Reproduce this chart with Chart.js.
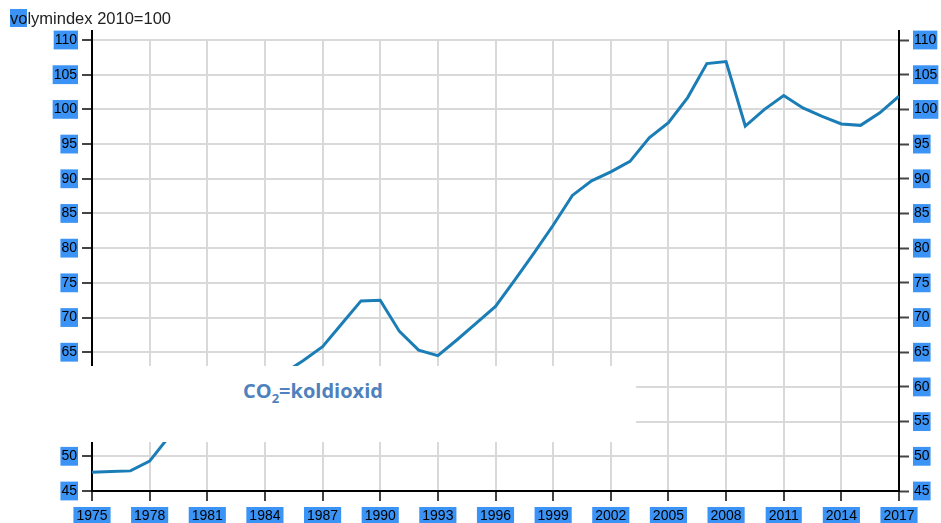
<!DOCTYPE html>
<html lang="sv">
  <head>
    <meta charset="UTF-8" />
    <title>Volymindex 2010=100</title>
    <script src="https://cdn.jsdelivr.net/npm/chart.js"></script>
    <style>
      body { margin: 0; background: #fff; }
      #wrap { position: relative; width: 941px; height: 523px; overflow: hidden; }
      #unit {
        position: absolute; left: 10px; top: 9px;
        font: 16.5px "Liberation Sans", Arial, sans-serif; color: #222;
        line-height: 18px;
      }
      #unit .sel { background: #3b93f5; color: #111; }
      #cover {
        position: absolute; left: 0; top: 366px; width: 636px; height: 76px;
        background: #fff;
      }
      #cover span {
        position: absolute; left: 243px; top: 11px;
        font: bold 20px "Open Sans", sans-serif; color: #4f81bd;
      }
    </style>
  </head>
  <body>
    <div id="wrap">
      <canvas id="chart" width="941" height="523"></canvas>
      <div id="unit"><span class="sel">vo</span>lymindex 2010=100</div>
      <div id="cover"><span>CO<sub style="font-size:13px">2</sub>=koldioxid</span></div>
    </div>

    <script>
      const years = [
        1975, 1976, 1977, 1978, 1979, 1980, 1981, 1982, 1983, 1984,
        1985, 1986, 1987, 1988, 1989, 1990, 1991, 1992, 1993, 1994,
        1995, 1996, 1997, 1998, 1999, 2000, 2001, 2002, 2003, 2004,
        2005, 2006, 2007, 2008, 2009, 2010, 2011, 2012, 2013, 2014,
        2015, 2016, 2017,
      ];
      // volymindex, 2010=100
      const volume = [
        47.7, 47.8, 47.9, 49.3, 52.8, 55.5, 56.5, 57.2, 58.3, 60.2,
        62.0, 63.8, 65.8, 69.1, 72.4, 72.5, 68.0, 65.3, 64.5, 66.8,
        69.2, 71.6, 75.4, 79.3, 83.3, 87.6, 89.7, 91.0, 92.5, 95.9,
        98.1, 101.7, 106.6, 106.9, 97.6, 100.0, 102.0, 100.2, 99.0, 97.9,
        97.7, 99.5, 101.9,
      ];
      const yMin = 45, yMax = 110, yStep = 5;
      const xStep = 3;

      const selBlue = "#3b93f5";
      const tickFont = { family: "'Liberation Sans', Arial, sans-serif", size: 14 };

      // axis lines poke a little above the plot area
      const axisStubs = {
        id: "axisStubs",
        afterDraw(chart) {
          const { ctx, chartArea } = chart;
          ctx.save();
          ctx.strokeStyle = "#000";
          ctx.lineWidth = 2;
          [chartArea.left, chartArea.right].forEach((x) => {
            ctx.beginPath();
            ctx.moveTo(x, chartArea.top - 10);
            ctx.lineTo(x, chartArea.top);
            ctx.stroke();
          });
          ctx.restore();
        },
      };

      const yTicks = {
        stepSize: yStep,
        color: "#000",
        font: tickFont,
        padding: 5,
        showLabelBackdrop: true,
        backdropColor: selBlue,
        backdropPadding: { top: 1, bottom: 1, left: 1, right: 1 },
      };

      new Chart(document.getElementById("chart"), {
        type: "line",
        data: {
          datasets: [
            {
              label: "volymindex",
              data: years.map((y, i) => ({ x: y, y: volume[i] })),
              borderColor: "#1b7db6",
              borderWidth: 3,
              pointRadius: 0,
              tension: 0,
            },
          ],
        },
        options: {
          responsive: false,
          animation: false,
          layout: { padding: { top: 40, left: 0, right: 0, bottom: 0 } },
          plugins: { legend: { display: false }, tooltip: { enabled: false } },
          scales: {
            x: {
              type: "linear",
              min: years[0],
              max: years[years.length - 1],
              afterFit: (s) => { s.height = 32; },
              border: { color: "#000", width: 2 },
              grid: { color: "#d9d9d9", lineWidth: 2, tickColor: "#444", tickLength: 10, tickWidth: 2 },
              ticks: {
                stepSize: xStep,
                maxRotation: 0,
                autoSkip: false,
                color: "#000",
                font: tickFont,
                padding: 7,
                showLabelBackdrop: true,
                backdropColor: selBlue,
                backdropPadding: { top: 1, bottom: 1, left: 3, right: 3 },
                callback: (v) => String(v),
              },
            },
            y: {
              position: "left",
              min: yMin,
              max: yMax,
              afterFit: (s) => { s.width = 92; },
              border: { color: "#000", width: 2 },
              grid: { color: "#d9d9d9", lineWidth: 2, tickColor: "#444", tickLength: 10, tickWidth: 2 },
              ticks: yTicks,
            },
            y2: {
              position: "right",
              min: yMin,
              max: yMax,
              afterFit: (s) => { s.width = 42; },
              border: { color: "#000", width: 2 },
              grid: { drawOnChartArea: false, tickColor: "#444", tickLength: 10, tickWidth: 2 },
              ticks: yTicks,
            },
          },
        },
        plugins: [axisStubs],
      });
    </script>
  </body>
</html>
